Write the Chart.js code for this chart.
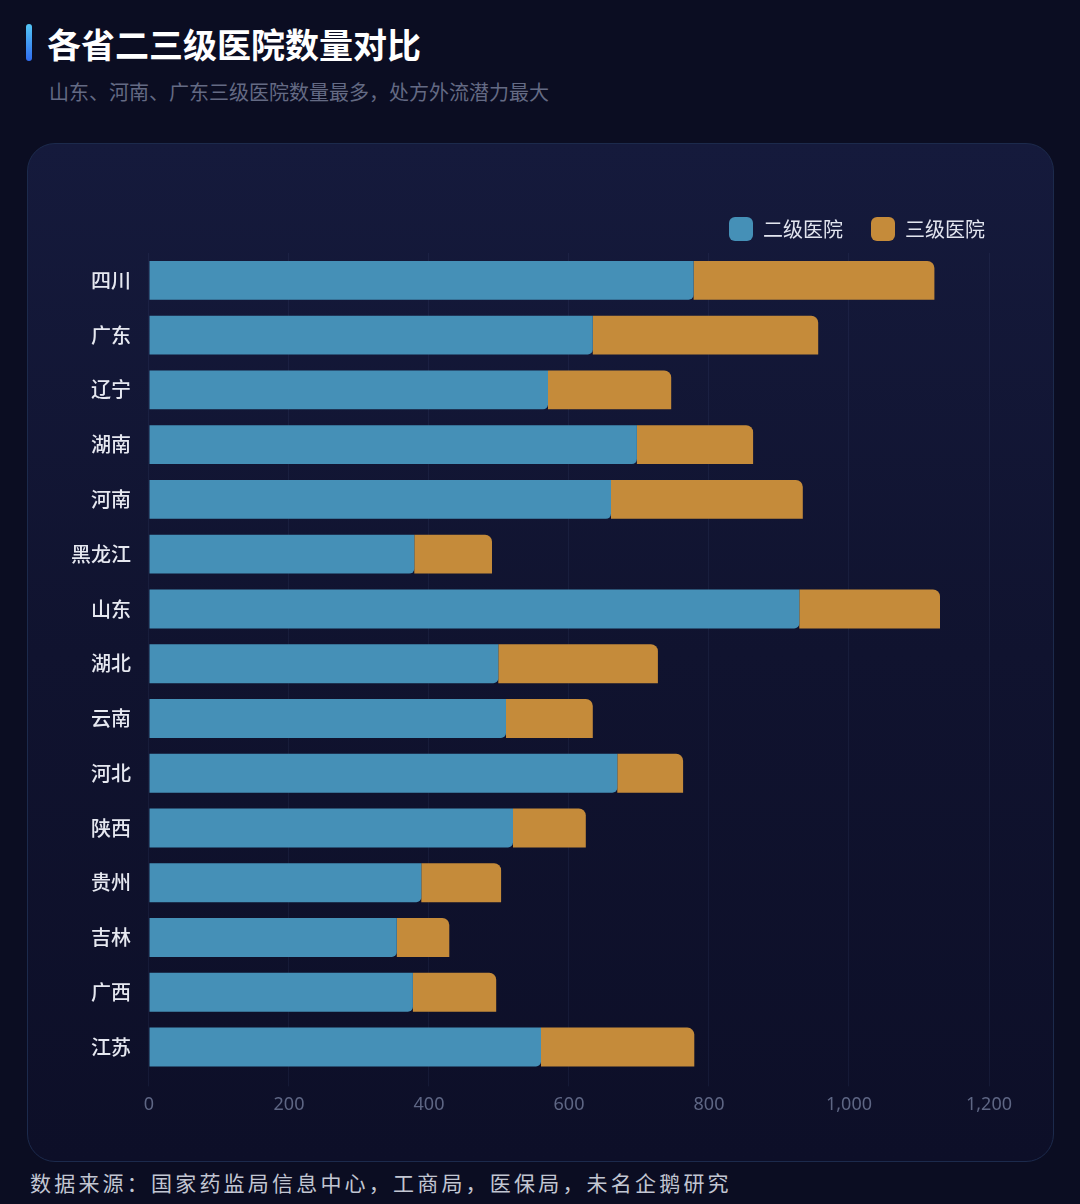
<!DOCTYPE html>
<html>
<head>
<meta charset="utf-8">
<script src="https://cdn.jsdelivr.net/npm/chart.js@4.4.1/dist/chart.umd.min.js"></script>
<style>
  html, body { margin: 0; padding: 0; }
  body {
    width: 1080px; height: 1204px; overflow: hidden; position: relative;
    background: #0b0d22;
    font-family: "Noto Sans CJK SC", "Noto Sans", sans-serif;
  }
  .accent {
    position: absolute; left: 26px; top: 24px; width: 6px; height: 37px;
    border-radius: 3px;
    background: linear-gradient(180deg, #54c6f6, #2f6cf0);
  }
  .title {
    position: absolute; left: 47px; top: 19px;
    font-size: 34px; font-weight: 700; color: #ffffff; line-height: 50px;
  }
  .subtitle {
    position: absolute; left: 49px; top: 78px;
    font-size: 20px; color: #646a84; line-height: 28px;
  }
  .card {
    position: absolute; left: 27px; top: 143px; width: 1025px; height: 1017px;
    border: 1px solid #1c2a4c; border-radius: 28px;
    background: linear-gradient(180deg, #151a3c 0%, #10132f 50%, #0d0f28 100%);
  }
  .card canvas { position: absolute; left: 0; top: 0; }
  .source {
    position: absolute; left: 30px; top: 1166px;
    font-size: 21px; color: #c2c6d2; letter-spacing: 3.2px; line-height: 32px;
  }
</style>
</head>
<body>
<div class="accent"></div>
<div class="title">各省二三级医院数量对比</div>
<div class="subtitle">山东、河南、广东三级医院数量最多，处方外流潜力最大</div>
<div class="card"><canvas id="c" width="1025" height="1017"></canvas></div>
<div class="source">数据来源：国家药监局信息中心，工商局，医保局，未名企鹅研究</div>
<script>
var provinces = ['四川', '广东', '辽宁', '湖南', '河南', '黑龙江', '山东', '湖北', '云南', '河北', '陕西', '贵州', '吉林', '广西', '江苏'];
var level2 = [778, 634, 570, 697, 660, 379, 929, 499, 510, 669, 520, 389, 354, 377, 560];
var level3 = [344, 322, 176, 166, 274, 111, 201, 228, 124, 94, 104, 114, 75, 119, 219];
var xTicks = [0, 200, 400, 600, 800, 1000, 1200];

var blue = '#4590b7';
var orange = '#c58b3a';

// nudge the legend to the right edge of the card
var legendShift = {
  id: 'legendShift',
  afterLayout: function (chart) {
    if (chart.legend) {
      chart.legend.left += 24;
      chart.legend.right += 24;
      chart.legend.top -= 2;
      chart.legend.bottom -= 2;
    }
  }
};

var chart = new Chart(document.getElementById('c'), {
  type: 'bar',
  data: {
    labels: provinces,
    datasets: [{
      label: '二级医院',
      data: level2,
      backgroundColor: blue,
      borderWidth: 0,
      borderSkipped: false,
      borderRadius: { topLeft: 0, topRight: 0, bottomLeft: 0, bottomRight: 5 },
      barPercentage: 0.71,
      categoryPercentage: 1
    }, {
      label: '三级医院',
      data: level3,
      backgroundColor: orange,
      borderWidth: 0,
      borderSkipped: false,
      borderRadius: { topLeft: 0, topRight: 7, bottomLeft: 0, bottomRight: 0 },
      barPercentage: 0.71,
      categoryPercentage: 1
    }]
  },
  options: {
    indexAxis: 'y',
    responsive: false,
    animation: false,
    layout: { padding: { top: 47, left: 33, right: 64, bottom: 37 } },
    plugins: {
      legend: {
        position: 'top',
        align: 'end',
        labels: {
          color: '#e2e5ef',
          font: { family: 'Noto Sans CJK SC', size: 20 },
          boxWidth: 24,
          boxHeight: 24,
          useBorderRadius: true,
          borderRadius: 6,
          padding: 28
        }
      },
      tooltip: { enabled: false }
    },
    scales: {
      x: {
        stacked: true,
        min: 0,
        max: 1200,
        afterBuildTicks: function (scale) {
          scale.ticks = xTicks.map(function (v) { return { value: v }; });
        },
        grid: { color: 'rgba(110,130,190,0.09)', tickLength: 12 },
        border: { display: false },
        ticks: {
          color: '#5e6684',
          font: { family: 'Noto Sans', size: 18 },
          padding: 8,
          callback: function (v) { return v.toLocaleString('en-US'); }
        }
      },
      y: {
        stacked: true,
        grid: { display: false },
        border: { display: false },
        ticks: {
          color: '#e6e8f0',
          font: { family: 'Noto Sans CJK SC', size: 20, weight: 500 },
          padding: 10
        }
      }
    }
  },
  plugins: [legendShift]
});
</script>
</body>
</html>
